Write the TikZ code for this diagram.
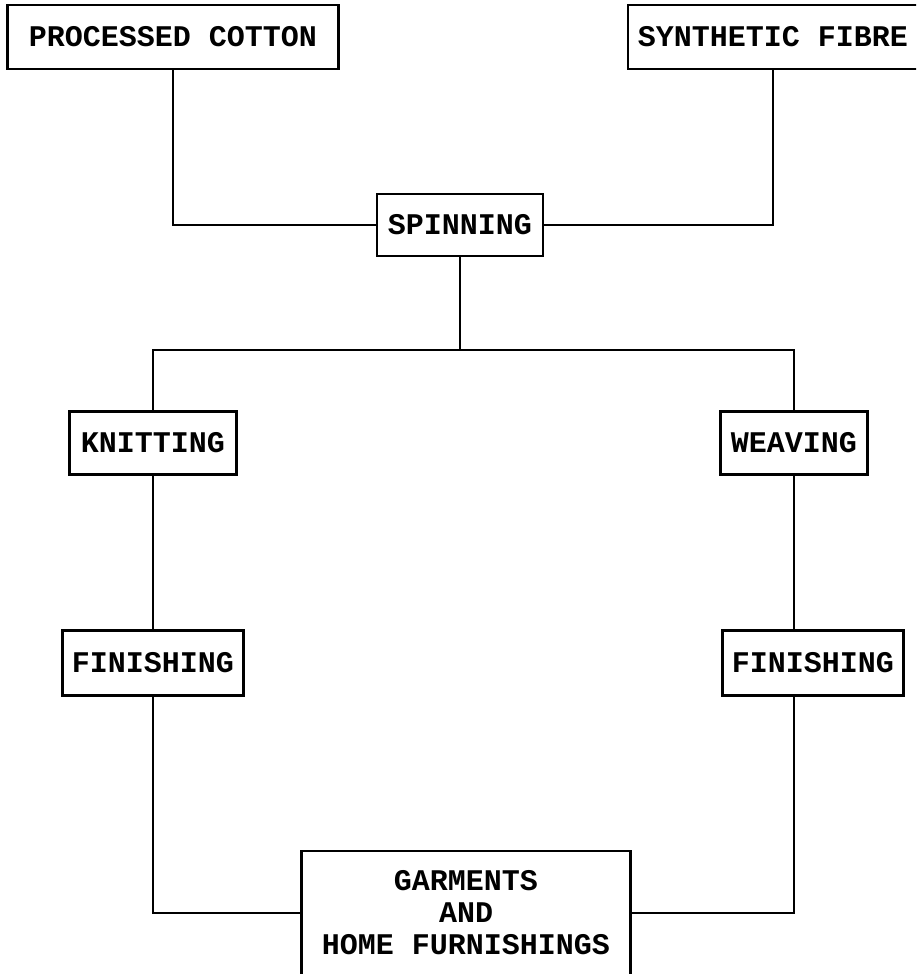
\documentclass[tikz,border=0pt]{standalone}
\usepackage{fontspec}
\setmonofont{Liberation Mono}
\usetikzlibrary{positioning}

\begin{document}
\begin{tikzpicture}[x=1pt, y=-1pt, line width=2.5pt,
  stage/.style={draw=black, inner sep=0pt, font=\ttfamily\bfseries\fontsize{30}{32}\selectfont}]
  \useasboundingbox (0,0) rectangle (916,974);
  \clip (0,0) rectangle (916,974);

  % raw fibres
  \node[stage, minimum width=331pt, minimum height=64pt](Cotton) at (173,37){PROCESSED COTTON};
  \node[stage, minimum width=290pt, minimum height=64pt](Synthetic) at (773,37){SYNTHETIC FIBRE};

  % spinning
  \node[stage, minimum width=166pt, minimum height=62pt](Spinning) at (460,225){SPINNING};
  \coordinate (Split) at (460,350);

  % knitting branch
  \node[stage, minimum width=167pt, minimum height=63pt](Knitting) at (153,443){KNITTING};
  \node[stage, minimum width=181pt, minimum height=65pt](FinishingK) at (153,663){FINISHING};

  % weaving branch
  \node[stage, minimum width=147pt, minimum height=63pt](Weaving) at (794,443){WEAVING};
  \node[stage, minimum width=181pt, minimum height=65pt](FinishingW) at (813,663){FINISHING};

  % end products
  \node[stage, align=center, minimum width=329pt, minimum height=124pt](Garments) at (466,913)
    {GARMENTS\\AND\\HOME FURNISHINGS};

  \draw (Cotton.south) |- (Spinning.west);
  \draw (Synthetic.south) |- (Spinning.east);
  \draw (Spinning.south) -- (Split);
  \draw (Knitting.north) |- (Split) -| (Weaving.north);
  \draw (Knitting.south) -- (FinishingK.north);
  \draw (Weaving.south) -- (Weaving.south |- FinishingW.north);
  \draw (FinishingK.south) |- (Garments.west);
  \draw (Weaving.south |- FinishingW.south) |- (Garments.east);
\end{tikzpicture}
\end{document}
